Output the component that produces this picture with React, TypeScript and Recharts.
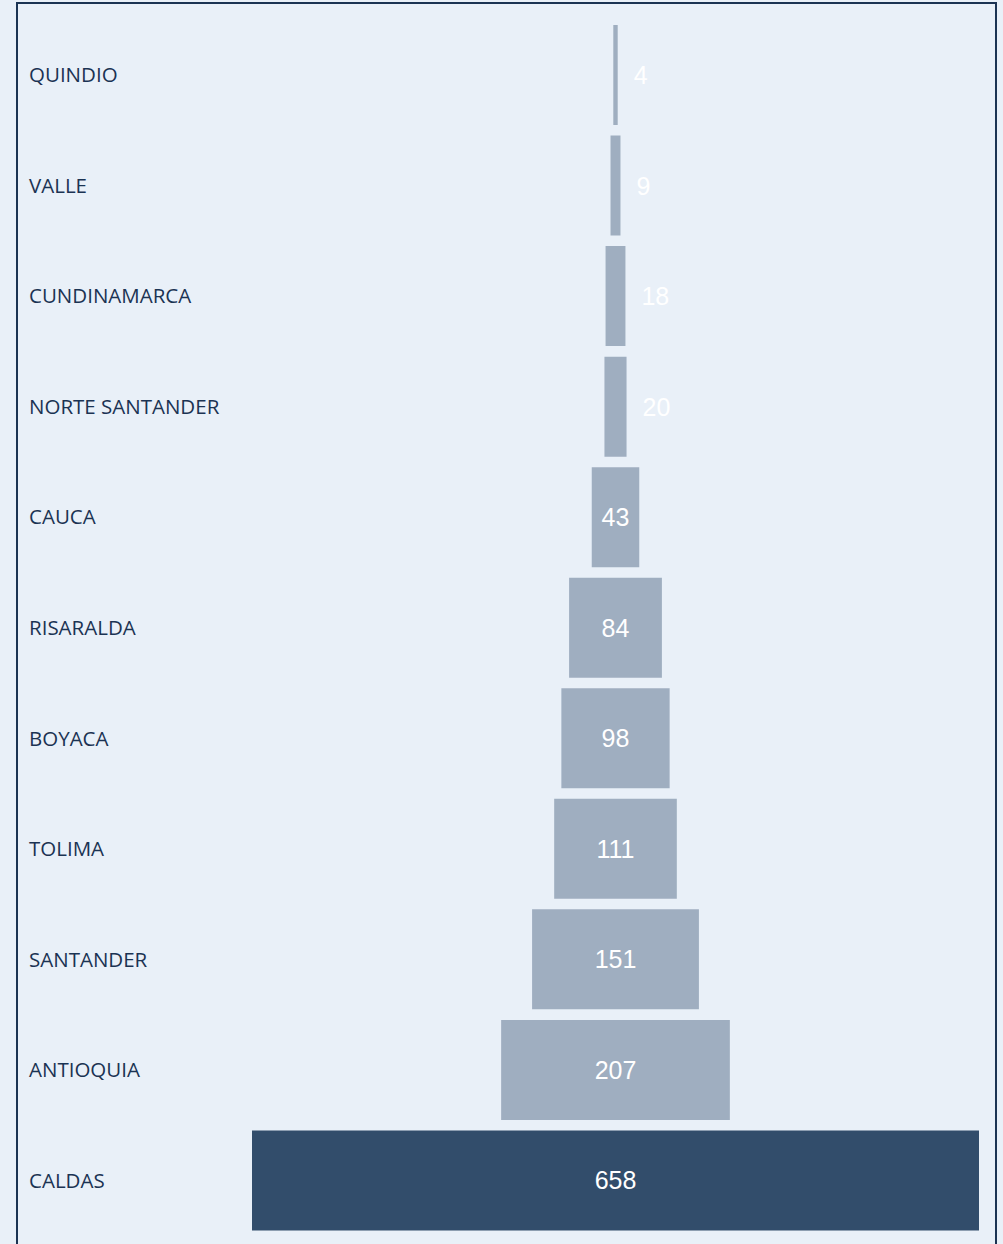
import { BarChart, Bar, XAxis, YAxis, Cell, LabelList } from 'recharts';

const categories = [
  'QUINDIO',
  'VALLE',
  'CUNDINAMARCA',
  'NORTE SANTANDER',
  'CAUCA',
  'RISARALDA',
  'BOYACA',
  'TOLIMA',
  'SANTANDER',
  'ANTIOQUIA',
  'CALDAS',
];
const values = [4, 9, 18, 20, 43, 84, 98, 111, 151, 207, 658];
const highlighted = 'CALDAS';

const maxValue = Math.max(...values);

// invisible spacer pushes each bar so the funnel is centred
const data = categories.map((name, i) => ({
  name,
  value: values[i],
  spacer: (maxValue - values[i]) / 2,
}));

const BG = '#e9f0f8';
const BAR = '#9faec0';
const DARK = '#324d6b';
const TEXT = '#1b3353';

function CategoryTick(props: any) {
  const { y, payload } = props;
  return (
    <text
      x={29}
      y={y}
      dy={7}
      textAnchor="start"
      fontFamily="'Open Sans', sans-serif"
      fontSize={20.5}
      fill={TEXT}
    >
      {payload.value}
    </text>
  );
}

function ValueLabel(props: any) {
  const { x, y, width, height, value } = props;
  const text = String(value);
  const textW = text.length * 13.9;
  const fits = width >= textW + 12;
  return (
    <text
      x={fits ? x + width / 2 : x + width + 16}
      y={y + height / 2}
      dy={9}
      textAnchor={fits ? 'middle' : 'start'}
      fontFamily="'Liberation Sans', Arial, sans-serif"
      fontSize={25}
      fill="#ffffff"
    >
      {text}
    </text>
  );
}

export default function App() {
  return (
    <div
      style={{
        position: 'absolute',
        left: 0,
        top: 0,
        width: 1003,
        height: 1244,
        background: BG,
        overflow: 'hidden',
      }}
    >
      <div
        style={{
          position: 'absolute',
          left: 16,
          top: 2,
          width: 977,
          height: 1280,
          border: `2px solid ${TEXT}`,
        }}
      />
      <div style={{ position: 'absolute', left: 0, top: 0 }}>
        <BarChart
          width={1003}
          height={1244}
          data={data}
          layout="vertical"
          margin={{ top: 20, right: 24, bottom: 8, left: 0 }}
        >
          <XAxis type="number" domain={[0, maxValue]} hide />
          <YAxis
            type="category"
            dataKey="name"
            width={252}
            axisLine={false}
            tickLine={false}
            tick={<CategoryTick />}
          />
          <Bar dataKey="spacer" stackId="f" fill="transparent" barSize={100} isAnimationActive={false} />
          <Bar dataKey="value" stackId="f" barSize={100} isAnimationActive={false}>
            {data.map((d) => (
              <Cell key={d.name} fill={d.name === highlighted ? DARK : BAR} />
            ))}
            <LabelList dataKey="value" content={<ValueLabel />} />
          </Bar>
        </BarChart>
      </div>
    </div>
  );
}
